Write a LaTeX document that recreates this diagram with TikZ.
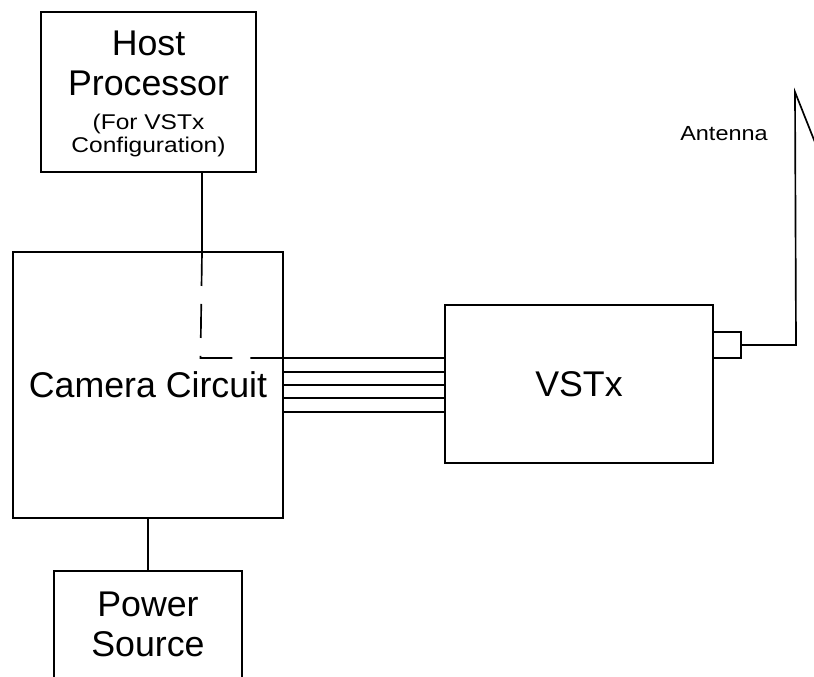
\documentclass[tikz,border=0pt]{standalone}
\usepackage{fontspec}
\setmainfont{Liberation Sans}
\newfontfamily\widesans[FakeStretch=1.15]{Liberation Sans}
\usepackage{tikz}
\usetikzlibrary{positioning,calc}
\newcommand{\largetxt}{\fontsize{26.8}{30}\selectfont}
\newcommand{\smalltxt}{\widesans\fontsize{16}{16}\selectfont}
\newcommand{\antentxt}{\widesans\fontsize{15.3}{17}\selectfont}
\tikzset{
  blockbox/.style={draw, line width=1.25pt, inner sep=0pt, outer sep=0pt,
                   align=center, font=\largetxt},
  wire/.style={line width=1.25pt},
  tapline/.style={line width=1.25pt, dash pattern=on 25.5pt off 13.5pt}
}
\begin{document}
\begin{tikzpicture}[x=0.75pt, y=-0.75pt]
    \useasboundingbox (0,0) rectangle (814,677);
    \clip (0,0) rectangle (814,677);

    % Blocks
    \node[blockbox, minimum width=161.25pt, minimum height=120pt] (host) at (148.5,92)
      {\rule{0pt}{22pt}Host\\Processor\\[-4.5pt]\smalltxt (For VSTx\\[-12.75pt]\smalltxt Configuration)};
    \node[blockbox, minimum width=202.5pt, minimum height=199.5pt] (cam) at (148,385) {Camera Circuit};
    \node[blockbox, minimum width=201pt, minimum height=118.5pt] (vst) at (579,384) {VSTx};
    \node[blockbox, minimum width=141pt, minimum height=80.6pt, anchor=north] (pwr) at (148,571)
      {Power\\Source};
    \node[draw, line width=1.25pt, minimum width=21pt, minimum height=19.5pt, inner sep=0pt] (port) at (727,345) {};

    % Host link, dashed inside camera
    \coordinate (tap) at (202,252);
    \coordinate (bend) at (200.5,358);
    \draw[wire] (host.south -| tap) -- (tap);
    \draw[tapline] (tap) -- (bend) -- (bend -| cam.east);

    % Bus
    \foreach \y in {358,371.7,385,398.3,411.7}
      \draw[wire] (cam.east |- 0,\y) -- (vst.west |- 0,\y);

    % Power link
    \draw[wire] (cam.south) -- (pwr.north);

    % Antenna
    \coordinate (antbase) at (796,345);
    \coordinate (anttop) at (795,92);
    \coordinate (anttip) at (822,160);
    \draw[wire] (port.east) -- (antbase) -- (anttop) -- (anttip);
    \node[font=\antentxt, anchor=base, inner sep=0pt] (antlbl) at (724,140.7) {Antenna};
\end{tikzpicture}
\end{document}
